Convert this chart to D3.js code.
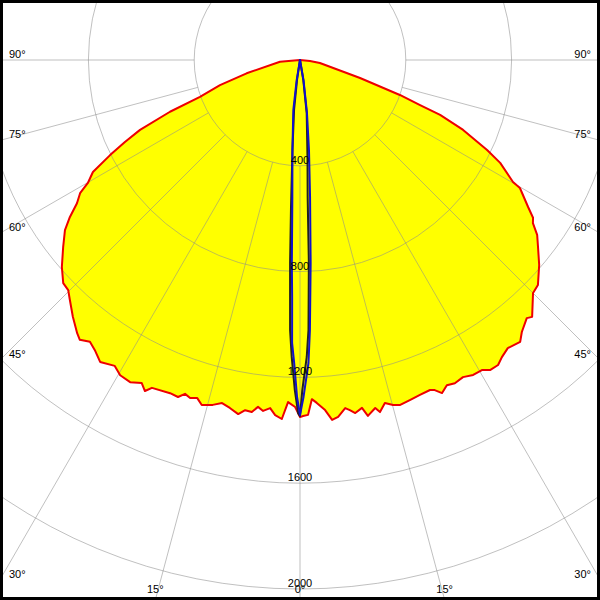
<!DOCTYPE html>
<html><head><meta charset="utf-8">
<script src="https://cdn.jsdelivr.net/npm/d3@7"></script>
<style>html,body{margin:0;padding:0;background:#fff}svg{display:block}</style>
</head><body>
<svg id="chart" width="600" height="600"></svg>
<script>
// ---- data (gamma in degrees, negative = left half; values in cd) ----
const ringValues = [400, 800, 1200, 1600, 2000];
const ringLabels = ["400", "800", "1200", "1600", "2000"];
const angleTicks = [-90, -75, -60, -45, -30, -15, 0, 15, 30, 45, 60, 75, 90];
const angleLabels = ["90°", "75°", "60°", "45°", "30°", "15°", "0°", "15°", "30°", "45°", "60°", "75°", "90°"];

const redGamma = [-90, -85.1, -76.0, -72.6, -69.8, -68.3, -66.4, -64.9, -63.4, -61.6, -59.9, -58.8, -57.3, -55.7, -54.1, -51.7, -49.0, -46.7, -45.2, -43.8, -41.5, -39.2, -38.2, -36.7, -35.3, -33.5, -31.2, -29.7, -27.8, -26.1, -25.1, -24.3, -21.3, -19.9, -19.0, -18.0, -16.9, -15.9, -14.2, -12.8, -11.4, -9.9, -8.9, -7.8, -6.9, -6.0, -4.9, -4.0, -2.9, -2.0, -0.8, 0,
  0.5, 1.3, 2.0, 2.8, 4.1, 5.1, 6.1, 7.4, 8.1, 8.9, 10.1, 10.8, 12.2, 12.8, 13.9, 15.1, 16.2, 17.9, 19.7, 21.5, 22.2, 23.1, 24.3, 25.6, 27.2, 28.8, 30.4, 31.5, 33.0, 34.2, 35.8, 38.0, 39.2, 41.3, 42.1, 45.0, 46.6, 49.4, 51.7, 53.6, 55.0, 55.9, 57.2, 59.8, 60.2, 62.8, 64.3, 66.8, 68.6, 69.4, 70.7, 73.3, 81.5, 84.3, 90];
const redValue = [0, 76, 208, 317, 403, 529, 660, 731, 803, 890, 927, 972, 1002, 1053, 1097, 1141, 1193, 1230, 1235, 1257, 1296, 1333, 1346, 1329, 1343, 1369, 1352, 1372, 1377, 1360, 1382, 1360, 1352, 1355, 1335, 1344, 1336, 1356, 1345, 1330, 1342, 1359, 1340, 1343, 1321, 1334, 1321, 1346, 1359, 1294, 1312, 1350,
  1346, 1342, 1283, 1298, 1327, 1366, 1357, 1327, 1337, 1351, 1336, 1370, 1346, 1365, 1336, 1351, 1358, 1351, 1345, 1341, 1348, 1369, 1349, 1355, 1348, 1359, 1359, 1375, 1375, 1358, 1343, 1352, 1327, 1299, 1309, 1246, 1238, 1191, 1147, 1114, 1075, 1064, 1026, 962, 928, 851, 785, 671, 569, 485, 400, 237, 76, 38, 0];

const blackGamma = [-12, -8.5, -6.8, -4.8, -3.5, -2.8, -2.1, -1.6, -0.9, -0.3, 0, 0.4, 1.3, 1.8, 2.5, 3.2, 4.3, 7.2, 9.4, 12];
const blackValue = [0, 76, 190, 341, 557, 768, 1022, 1123, 1248, 1335, 1346, 1248, 1123, 1021, 768, 519, 379, 202, 77, 0];

const blueGamma = [-12, -9.4, -7.6, -4.8, -3.2, -2.3, -1.9, -1.6, -1.1, -0.5, 0, 0.6, 1.6, 2.1, 3.0, 4.2, 5.7, 7.5, 9.9, 12];
const blueValue = [0, 77, 191, 341, 519, 768, 897, 1070, 1146, 1274, 1342, 1274, 1146, 1022, 769, 519, 342, 202, 77, 0];

// ---- layout ----
const W = 600, H = 600, cx = 300, cy = 60;
const svg = d3.select("#chart");
const r = d3.scaleLinear().domain([0, 2000]).range([0, 529]);
const ang = g => Math.PI - g * Math.PI / 180; // 0° points down
const FONT = "'Liberation Sans', Arial, sans-serif";

const g = svg.append("g").attr("transform", `translate(${cx},${cy})`);
const zip = (a, b) => a.map((v, i) => [v, b[i]]);
const radial = d3.lineRadial().angle(d => ang(d[0])).radius(d => r(d[1])).curve(d3.curveLinearClosed);

// yellow fill
g.append("path").attr("d", radial(zip(redGamma, redValue)))
  .attr("fill", "#ffff00").attr("stroke", "none");

// grid
const grid = g.append("g").attr("stroke", "#8c8c8c").attr("stroke-opacity", 0.55).attr("fill", "none").attr("stroke-width", 1);
grid.selectAll("circle").data(ringValues).join("circle").attr("r", d => r(d));
grid.selectAll("line").data(angleTicks).join("line")
  .attr("x1", d => Math.sin(d * Math.PI / 180) * r(400))
  .attr("y1", d => Math.cos(d * Math.PI / 180) * r(400))
  .attr("x2", d => Math.sin(d * Math.PI / 180) * 1000)
  .attr("y2", d => Math.cos(d * Math.PI / 180) * 1000);

// curves
g.append("path").attr("d", radial(zip(redGamma, redValue)))
  .attr("fill", "none").attr("stroke", "#ee0000").attr("stroke-width", 2).attr("stroke-linejoin", "round");
g.append("path").attr("d", radial(zip(blackGamma, blackValue)))
  .attr("fill", "none").attr("stroke", "#202020").attr("stroke-width", 2).attr("stroke-linejoin", "round");
g.append("path").attr("d", radial(zip(blueGamma, blueValue)))
  .attr("fill", "none").attr("stroke", "#1010cc").attr("stroke-width", 2).attr("stroke-linejoin", "round");

// ring labels
g.selectAll("text.ring").data(ringValues).join("text").attr("class", "ring")
  .attr("x", 0).attr("y", d => r(d) - 2)
  .attr("text-anchor", "middle").attr("font-family", FONT).attr("font-size", 11).attr("fill", "#000")
  .text((d, i) => ringLabels[i]);

// angle labels
angleTicks.forEach((a, i) => {
  const rad = a * Math.PI / 180, s = Math.sin(rad), c = Math.cos(rad);
  let x, y, anchor;
  const tSide = Math.abs(s) > 1e-6 ? (W / 2) / Math.abs(s) : Infinity;
  const yExit = cy + c * tSide;
  if (yExit <= H) {
    y = yExit - 2;
    if (s < 0) { x = 9; anchor = "start"; } else { x = W - 9; anchor = "end"; }
  } else {
    const t = (H - cy) / c;
    x = cx + s * t; y = H - 7; anchor = "middle";
  }
  svg.append("text").attr("x", x).attr("y", y).attr("text-anchor", anchor)
    .attr("font-family", FONT).attr("font-size", 11).attr("fill", "#000").text(angleLabels[i]);
});

// border
svg.append("rect").attr("x", 1.5).attr("y", 1.5).attr("width", W - 3).attr("height", H - 3)
  .attr("fill", "none").attr("stroke", "#000").attr("stroke-width", 3);
</script>
</body></html>
